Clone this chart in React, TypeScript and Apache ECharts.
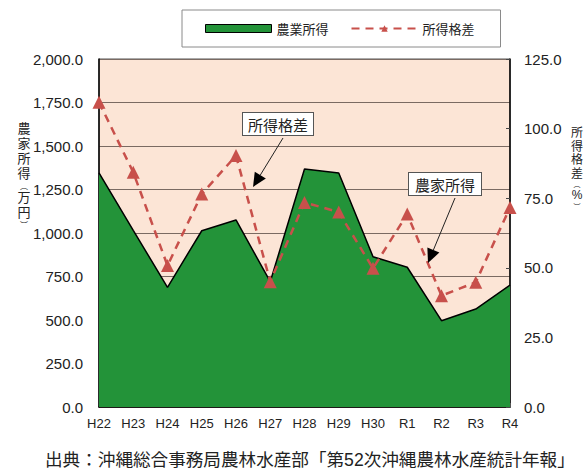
import React, { useEffect, useRef } from "react";
import * as echarts from "echarts";

const categories = ["H22", "H23", "H24", "H25", "H26", "H27", "H28", "H29", "H30", "R1", "R2", "R3", "R4"];
const farmIncome = [1346, 1015, 688, 1013, 1075, 720, 1368, 1345, 864, 803, 496, 563, 701];
const incomeGap = [109.5, 84.3, 50.8, 76.5, 90.3, 45.0, 73.5, 70.0, 49.8, 69.3, 40.0, 44.8, 71.7];
const leftTicks = { min: 0, max: 2000, interval: 250 };
const rightTicks = { min: 0, max: 125, interval: 25 };
const leftAxisTitle = ["農", "家", "所", "得", "︵", "万", "円", "︶"];
const rightAxisTitle = ["所", "得", "格", "差", "︵", "%", "︶"];

const JP = "'Noto Sans CJK JP', 'Noto Sans', sans-serif";
const LAT = "'Liberation Sans', Arial, sans-serif";
const VERT = "'Liberation Sans', 'Noto Sans CJK JP', sans-serif";

function arrow(x1: number, y1: number, x2: number, y2: number, len = 14, half = 6.5) {
  const dx = x2 - x1;
  const dy = y2 - y1;
  const l = Math.sqrt(dx * dx + dy * dy);
  const ux = dx / l;
  const uy = dy / l;
  const bx = x2 - ux * len;
  const by = y2 - uy * len;
  const px = -uy;
  const py = ux;
  return [
    { type: "line", shape: { x1, y1, x2: bx, y2: by }, style: { stroke: "#222", lineWidth: 1 }, z: 100 },
    {
      type: "polygon",
      shape: { points: [[x2, y2], [bx + px * half, by + py * half], [bx - px * half, by - py * half]] },
      style: { fill: "#000" },
      z: 100,
    },
  ];
}

function verticalTitle(chars: string[], cx: number, tops: number[], size: number, parenSize: number) {
  return chars.map((c, i) => {
    const isParen = c === "︵" || c === "︶";
    const fs = isParen ? parenSize : size;
    return {
      type: "text",
      x: cx,
      y: tops[i],
      style: {
        text: c,
        fontFamily: VERT,
        fontSize: fs,
        lineHeight: fs,
        fill: "#222",
        align: "center",
        verticalAlign: "top",
      },
    };
  });
}

function fmt1(v: number) {
  return v.toLocaleString("en-US", { minimumFractionDigits: 1, maximumFractionDigits: 1 });
}

export default function App() {
  const ref = useRef<HTMLDivElement>(null);
  useEffect(() => {
    if (!ref.current) return;
    const chart = echarts.init(ref.current, null, { renderer: "svg" });
    const option: any = {
      animation: false,
      backgroundColor: "#ffffff",
      legend: {
        left: 182,
        top: 10,
        padding: [12, 26, 12, 23],
        borderColor: "#8a8a8a",
        borderWidth: 1,
        itemWidth: 66,
        itemHeight: 8,
        itemGap: 22,
        textStyle: { fontFamily: JP, fontSize: 13, color: "#222" },
        data: [
          { name: "農業所得", icon: "rect", itemStyle: { color: "#239339", borderColor: "#000", borderWidth: 1 } },
          { name: "所得格差" },
        ],
      },
      grid: {
        left: 99,
        right: 77,
        top: 59,
        bottom: 64,
        show: true,
        backgroundColor: "#FCE5D6",
        borderColor: "#555",
        borderWidth: 1,
      },
      xAxis: {
        type: "category",
        data: categories,
        boundaryGap: false,
        axisLine: { lineStyle: { color: "#000", width: 1.5 } },
        axisTick: { show: true, inside: true, length: 4, lineStyle: { color: "#555" } },
        axisLabel: { fontFamily: LAT, fontSize: 13, color: "#222", margin: 10 },
        splitLine: { show: false },
      },
      yAxis: [
        {
          type: "value",
          min: leftTicks.min,
          max: leftTicks.max,
          interval: leftTicks.interval,
          axisLine: { show: true, lineStyle: { color: "#000", width: 1.5 } },
          axisTick: { show: false },
          axisLabel: { fontFamily: LAT, fontSize: 15, color: "#222", margin: 16, formatter: (v: number) => fmt1(v) },
          splitLine: { show: true, lineStyle: { color: "#7a6a62", width: 1 } },
        },
        {
          type: "value",
          min: rightTicks.min,
          max: rightTicks.max,
          interval: rightTicks.interval,
          position: "right",
          axisLine: { show: true, lineStyle: { color: "#000", width: 1.5 } },
          axisTick: { show: true, inside: true, length: 4, lineStyle: { color: "#444" } },
          axisLabel: { fontFamily: LAT, fontSize: 15, color: "#222", margin: 14, formatter: (v: number) => fmt1(v) },
          splitLine: { show: false },
        },
      ],
      series: [
        {
          name: "農業所得",
          type: "line",
          data: farmIncome,
          yAxisIndex: 0,
          symbol: "none",
          color: "#239339",
          lineStyle: { color: "#000", width: 1.5 },
          areaStyle: { color: "#239339", opacity: 1 },
          z: 2,
        },
        {
          name: "所得格差",
          type: "line",
          data: incomeGap,
          yAxisIndex: 1,
          symbol: "triangle",
          symbolSize: 13,
          color: "#C8504B",
          itemStyle: { color: "#C8504B" },
          lineStyle: { color: "#C8504B", width: 2.5, type: [8, 6] },
          z: 3,
        },
      ],
      graphic: [
        ...verticalTitle(leftAxisTitle, 24, [122, 137, 152, 167, 182, 191, 206, 221], 13, 8),
        ...verticalTitle(rightAxisTitle, 577, [127, 140.5, 154, 167.5, 181, 189, 203], 12, 7),
        {
          type: "text",
          left: 242,
          top: 112,
          z: 101,
          style: {
            text: "所得格差",
            fontFamily: JP,
            fontSize: 15,
            fill: "#222",
            backgroundColor: "#fff",
            borderColor: "#555",
            borderWidth: 1,
            padding: [4, 5, 3, 5],
          },
        },
        {
          type: "text",
          left: 408,
          top: 172,
          z: 101,
          style: {
            text: "農家所得",
            fontFamily: JP,
            fontSize: 15,
            fill: "#222",
            backgroundColor: "#fff",
            borderColor: "#555",
            borderWidth: 1,
            padding: [4, 6, 3, 6],
          },
        },
        ...arrow(283, 138, 253, 187),
        ...arrow(455, 198, 428, 263),
        {
          type: "text",
          left: 45,
          top: 451,
          style: {
            text: "出典：沖縄総合事務局農林水産部「第52次沖縄農林水産統計年報」",
            fontFamily: VERT,
            fontSize: 17.6,
            lineHeight: 18,
            fill: "#222",
          },
        },
      ],
    };
    chart.setOption(option);
    return () => chart.dispose();
  }, []);
  return <div ref={ref} style={{ position: "fixed", left: 0, top: 0, width: 587, height: 471 }} />;
}
